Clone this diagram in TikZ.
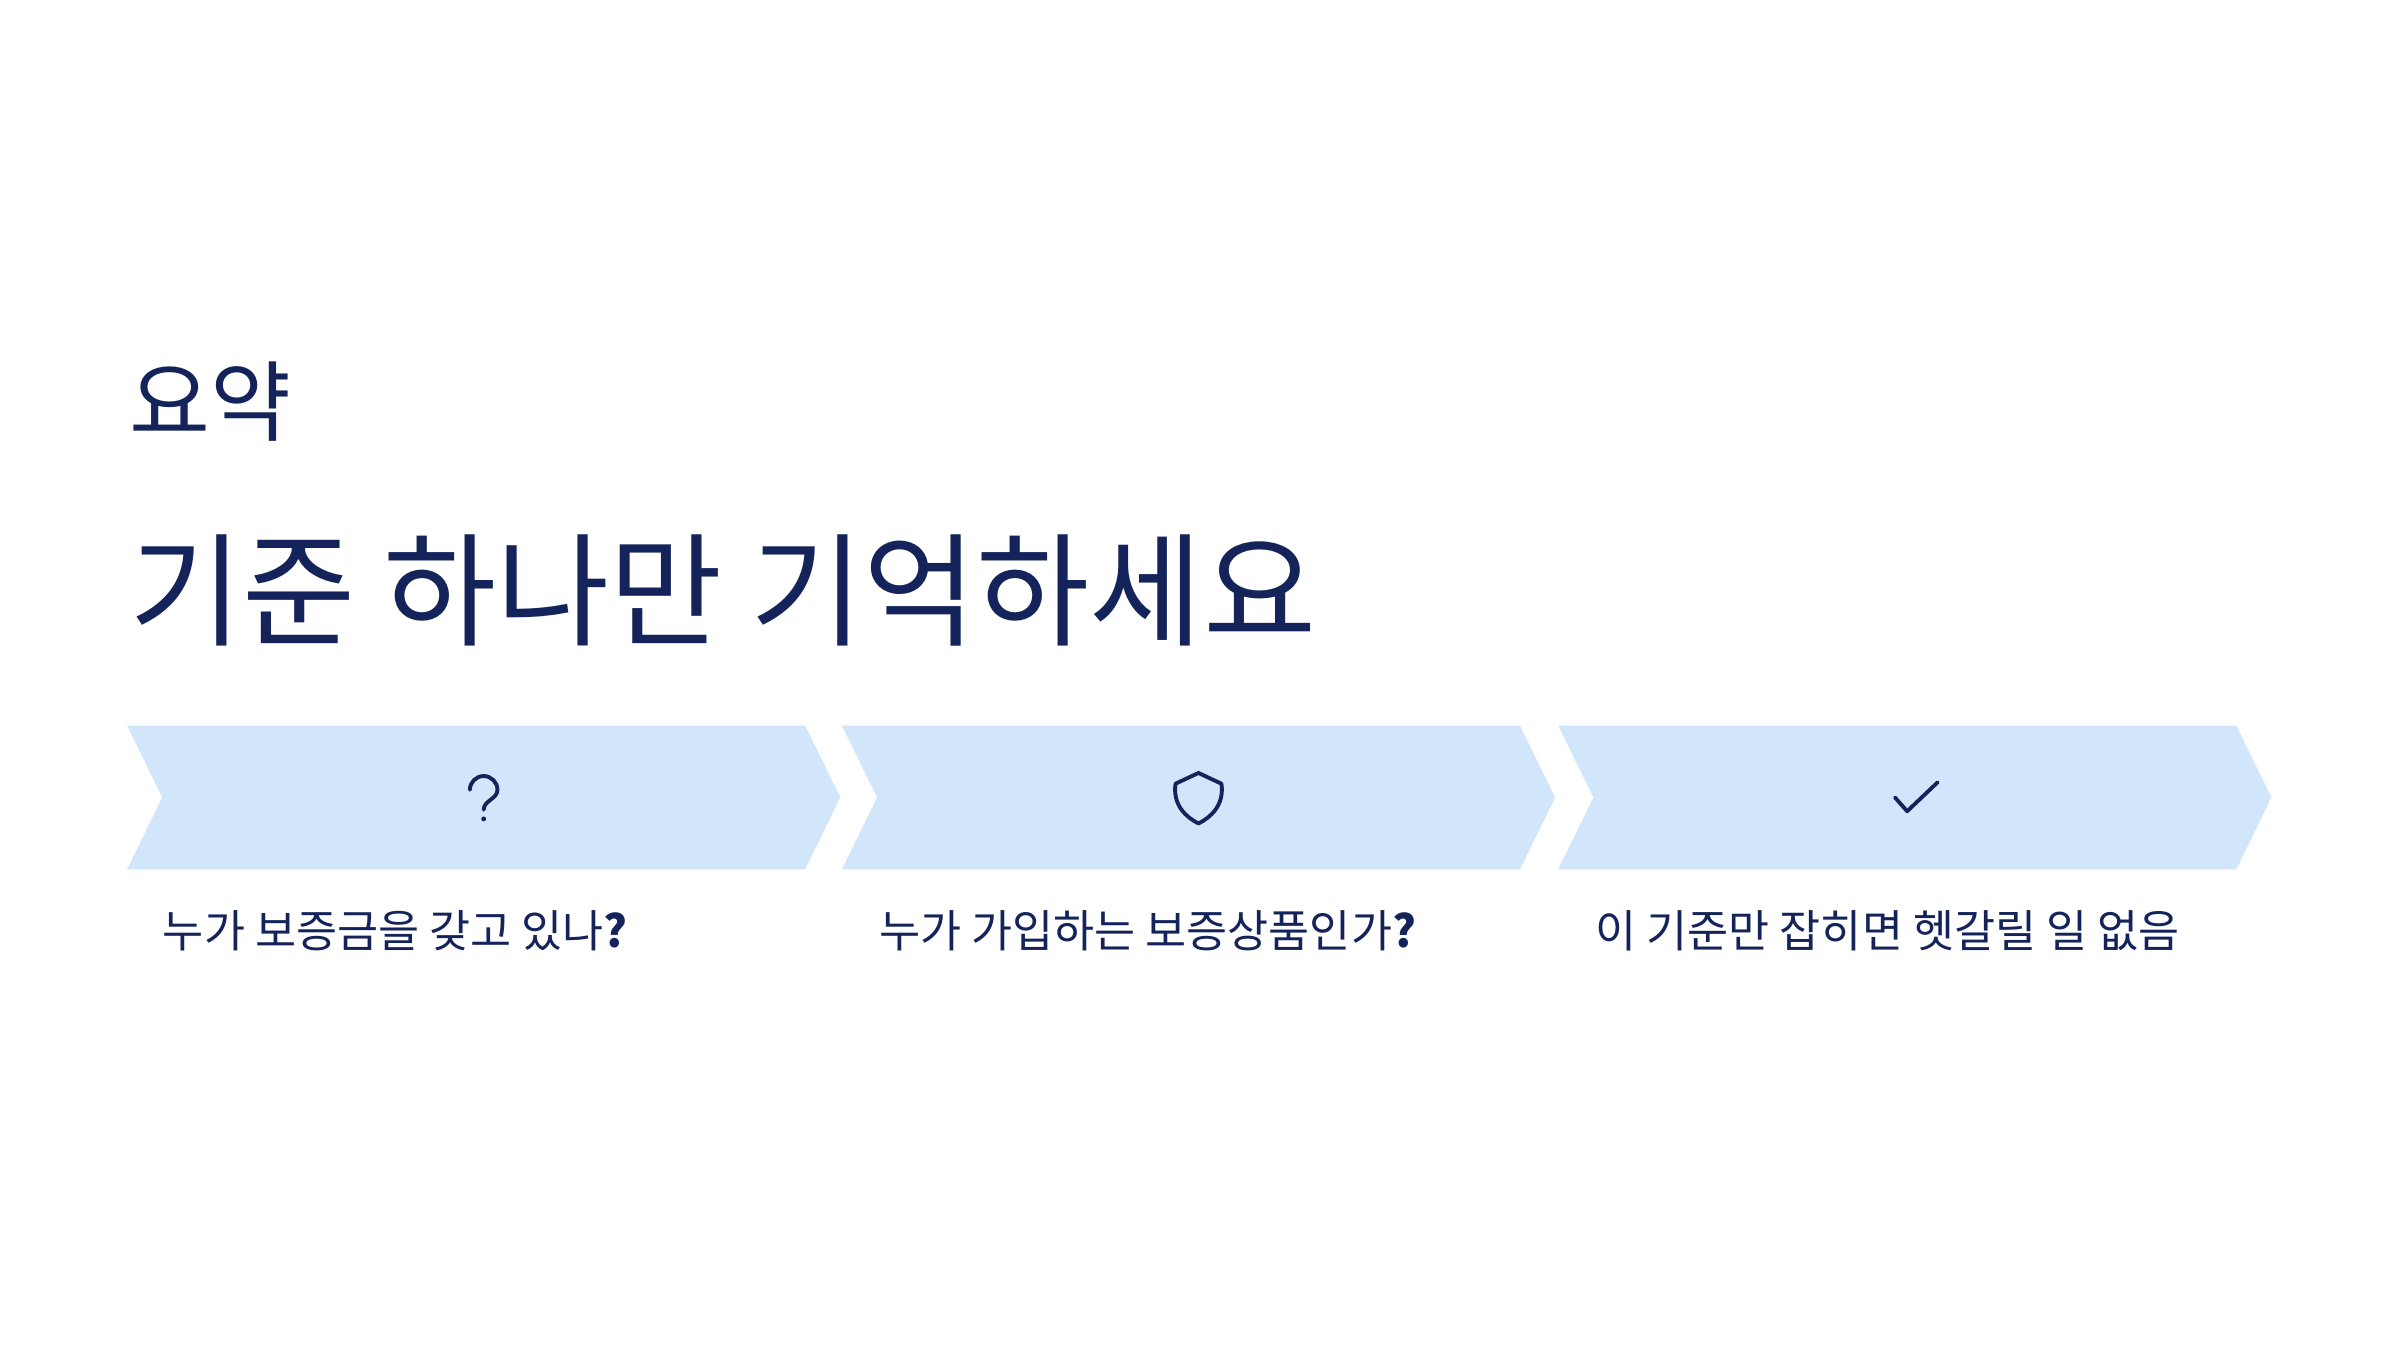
\documentclass[tikz,border=0pt]{standalone}
\usepackage{fontspec}
\setmainfont{Noto Sans CJK KR}
\usepackage{tikz}
\usetikzlibrary{positioning}
\usetikzlibrary{calc}
\definecolor{navy}{HTML}{14245A}
\definecolor{paleblue}{HTML}{D1E5FB}
\tikzstyle{chev}= [fill=paleblue, draw=none]
\tikzstyle{icon}= [draw=navy, line width=1.1pt, line cap=round, line join=round]

\begin{document}
\begin{tikzpicture}[
		x=0.01531cm, y=-0.01531cm,
    label/.style={anchor=base west, text=navy, font=\fontsize{12.7}{15}\selectfont, inner sep=0pt}
	]
  \useasboundingbox[fill=white] (0,0) rectangle (1568,882);

  % headings
  \node[anchor=base west, text=navy, font=\fontsize{25}{28}\selectfont, inner sep=0pt] (kicker) at (84,284) {요약};
  \node[anchor=base west, text=navy, font=\fontsize{35}{40}\selectfont, inner sep=0pt] (title) at (84,416) {기준 하나만 기억하세요};

  % chevrons
  \foreach \x/\n in {83/c1, 550/c2, 1018/c3} {
    \fill[chev] (\x,474) -- ++(443,0) -- ++(23,47) -- ++(-23,47) -- ++(-443,0) -- ++(23,-47) -- cycle;
    \coordinate (\n) at (\x+233,521);
  }

  % icons
  \draw[icon] ($(c1)+(-9,-5)$) arc (180:360:9) .. controls ($(c1)+(9,1)$) and ($(c1)+(0,2)$) .. ($(c1)+(0,8)$);
  \fill[navy] ($(c1)+(0,14)$) circle (1.6);
  \draw[icon] ($(c2)+(0,-16)$) -- ($(c2)+(15,-9)$) .. controls ($(c2)+(17,5)$) and ($(c2)+(8,13)$) .. ($(c2)+(0,17)$)
    .. controls ($(c2)+(-8,13)$) and ($(c2)+(-17,5)$) .. ($(c2)+(-15,-9)$) -- cycle;
  \draw[icon] ($(c3)+(-13,0)$) -- ($(c3)+(-5,9)$) -- ($(c3)+(15,-10)$);

  % captions
  \node[label] (l1) at (106,619) {누가 보증금을 갖고 있나\textbf{?}};
  \node[label] (l2) at (574,619) {누가 가입하는 보증상품인가\textbf{?}};
  \node[label] (l3) at (1042,619) {이 기준만 잡히면 헷갈릴 일 없음};
\end{tikzpicture}
\end{document}
